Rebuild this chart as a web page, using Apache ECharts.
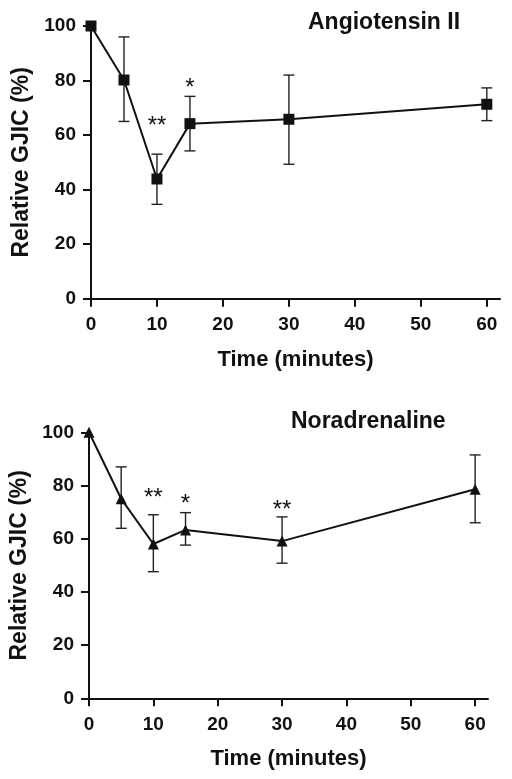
<!DOCTYPE html>
<html>
<head>
<meta charset="utf-8">
<script src="https://cdn.jsdelivr.net/npm/echarts@6/dist/echarts.min.js"></script>
<style>html,body{margin:0;padding:0;background:#fff;}#c{width:512px;height:779px;}</style>
</head>
<body>
<div id="c"></div>
<script>
// Data
var timeMin = [0, 5, 10, 15, 30, 60];
var xTicks = [0, 10, 20, 30, 40, 50, 60];
var yTicks = [0, 20, 40, 60, 80, 100];

var angMean  = [100, 80.2, 43.9, 64.2, 65.8, 71.3];
var angUpper = [null, 96.0, 53.0, 74.2, 82.0, 77.3];
var angLower = [null, 65.0, 34.6, 54.2, 49.3, 65.3];
var angSig   = [[10, 63.2, '**'], [15, 77.0, '*']];

var norMean  = [100, 75.0, 58.0, 63.3, 59.1, 78.6];
var norUpper = [null, 87.0, 69.0, 69.8, 68.2, 91.5];
var norLower = [null, 63.9, 47.6, 57.6, 50.8, 66.0];
var norSig   = [[10, 75.0, '**'], [15, 73.0, '*'], [30, 70.6, '**']];

var FONT = 'Liberation Sans';
var chart = echarts.init(document.getElementById('c'), null, {renderer: 'canvas'});

function pairs(xs, ys) { return xs.map(function (x, i) { return [x, ys[i]]; }); }
function errData(xs, lo, hi) {
  var out = [];
  xs.forEach(function (x, i) { if (lo[i] != null) out.push([x, lo[i], hi[i]]); });
  return out;
}
function errRender(params, api) {
  var x = api.value(0);
  var lo = api.coord([x, api.value(1)]);
  var hi = api.coord([x, api.value(2)]);
  var w = 5.5;
  var st = {stroke: '#222', lineWidth: 1.4};
  return {
    type: 'group',
    children: [
      {type: 'line', shape: {x1: lo[0], y1: lo[1], x2: hi[0], y2: hi[1]}, style: st},
      {type: 'line', shape: {x1: lo[0] - w, y1: lo[1], x2: lo[0] + w, y2: lo[1]}, style: st},
      {type: 'line', shape: {x1: hi[0] - w, y1: hi[1], x2: hi[0] + w, y2: hi[1]}, style: st}
    ]
  };
}
function sigRender(params, api) {
  var p = api.coord([api.value(0), api.value(1)]);
  return {
    type: 'text',
    x: p[0], y: p[1],
    style: {text: api.value(2), fill: '#111', font: '24px ' + FONT, align: 'center', verticalAlign: 'middle'}
  };
}

function xAxis(gi) {
  return {
    type: 'value', gridIndex: gi, min: 0, max: 62, interval: 10,
    name: 'Time (minutes)', nameLocation: 'middle', nameGap: 50,
    nameTextStyle: {fontFamily: FONT, fontWeight: 'bold', fontSize: 22, color: '#111'},
    axisLine: {show: true, lineStyle: {color: '#111', width: 2}},
    axisTick: {show: true, length: 8, lineStyle: {color: '#111', width: 2}, customValues: xTicks},
    axisLabel: {fontFamily: FONT, fontWeight: 'bold', fontSize: 19, color: '#111', margin: 17, customValues: xTicks},
    splitLine: {show: false}
  };
}
function yAxis(gi) {
  return {
    type: 'value', gridIndex: gi, min: 0, max: 100, interval: 20,
    name: 'Relative GJIC (%)', nameLocation: 'middle', nameGap: 58,
    nameTextStyle: {fontFamily: FONT, fontWeight: 'bold', fontSize: 23, color: '#111'},
    axisLine: {show: true, lineStyle: {color: '#111', width: 2}},
    axisTick: {show: true, length: 8, lineStyle: {color: '#111', width: 2}, customValues: yTicks},
    axisLabel: {fontFamily: FONT, fontWeight: 'bold', fontSize: 19, color: '#111', margin: 15, customValues: yTicks},
    splitLine: {show: false}
  };
}

chart.setOption({
  backgroundColor: '#fff',
  animation: false,
  title: [
    {text: 'Angiotensin II', left: 303, top: 6, textStyle: {fontFamily: FONT, fontWeight: 'bold', fontSize: 23, color: '#111'}},
    {text: 'Noradrenaline', left: 286, top: 405, textStyle: {fontFamily: FONT, fontWeight: 'bold', fontSize: 23, color: '#111'}}
  ],
  grid: [
    {left: 91, top: 26, width: 409, height: 272.7},
    {left: 87.7, top: 432.3, width: 400.3, height: 266}
  ],
  xAxis: [xAxis(0), xAxis(1)],
  yAxis: [yAxis(0), yAxis(1)],
  series: [
    {type: 'custom', xAxisIndex: 0, yAxisIndex: 0, renderItem: errRender, data: errData(timeMin, angLower, angUpper), z: 1},
    {type: 'line', xAxisIndex: 0, yAxisIndex: 0, data: pairs(timeMin, angMean), symbol: 'rect', symbolSize: 11,
     lineStyle: {color: '#111', width: 2}, itemStyle: {color: '#111'}, z: 2},
    {type: 'custom', xAxisIndex: 0, yAxisIndex: 0, renderItem: sigRender, data: angSig, z: 3},
    {type: 'custom', xAxisIndex: 1, yAxisIndex: 1, renderItem: errRender, data: errData(timeMin, norLower, norUpper), z: 1},
    {type: 'line', xAxisIndex: 1, yAxisIndex: 1, data: pairs(timeMin, norMean), symbol: 'triangle', symbolSize: 11,
     lineStyle: {color: '#111', width: 2}, itemStyle: {color: '#111'}, z: 2},
    {type: 'custom', xAxisIndex: 1, yAxisIndex: 1, renderItem: sigRender, data: norSig, z: 3}
  ]
});
</script>
</body>
</html>
